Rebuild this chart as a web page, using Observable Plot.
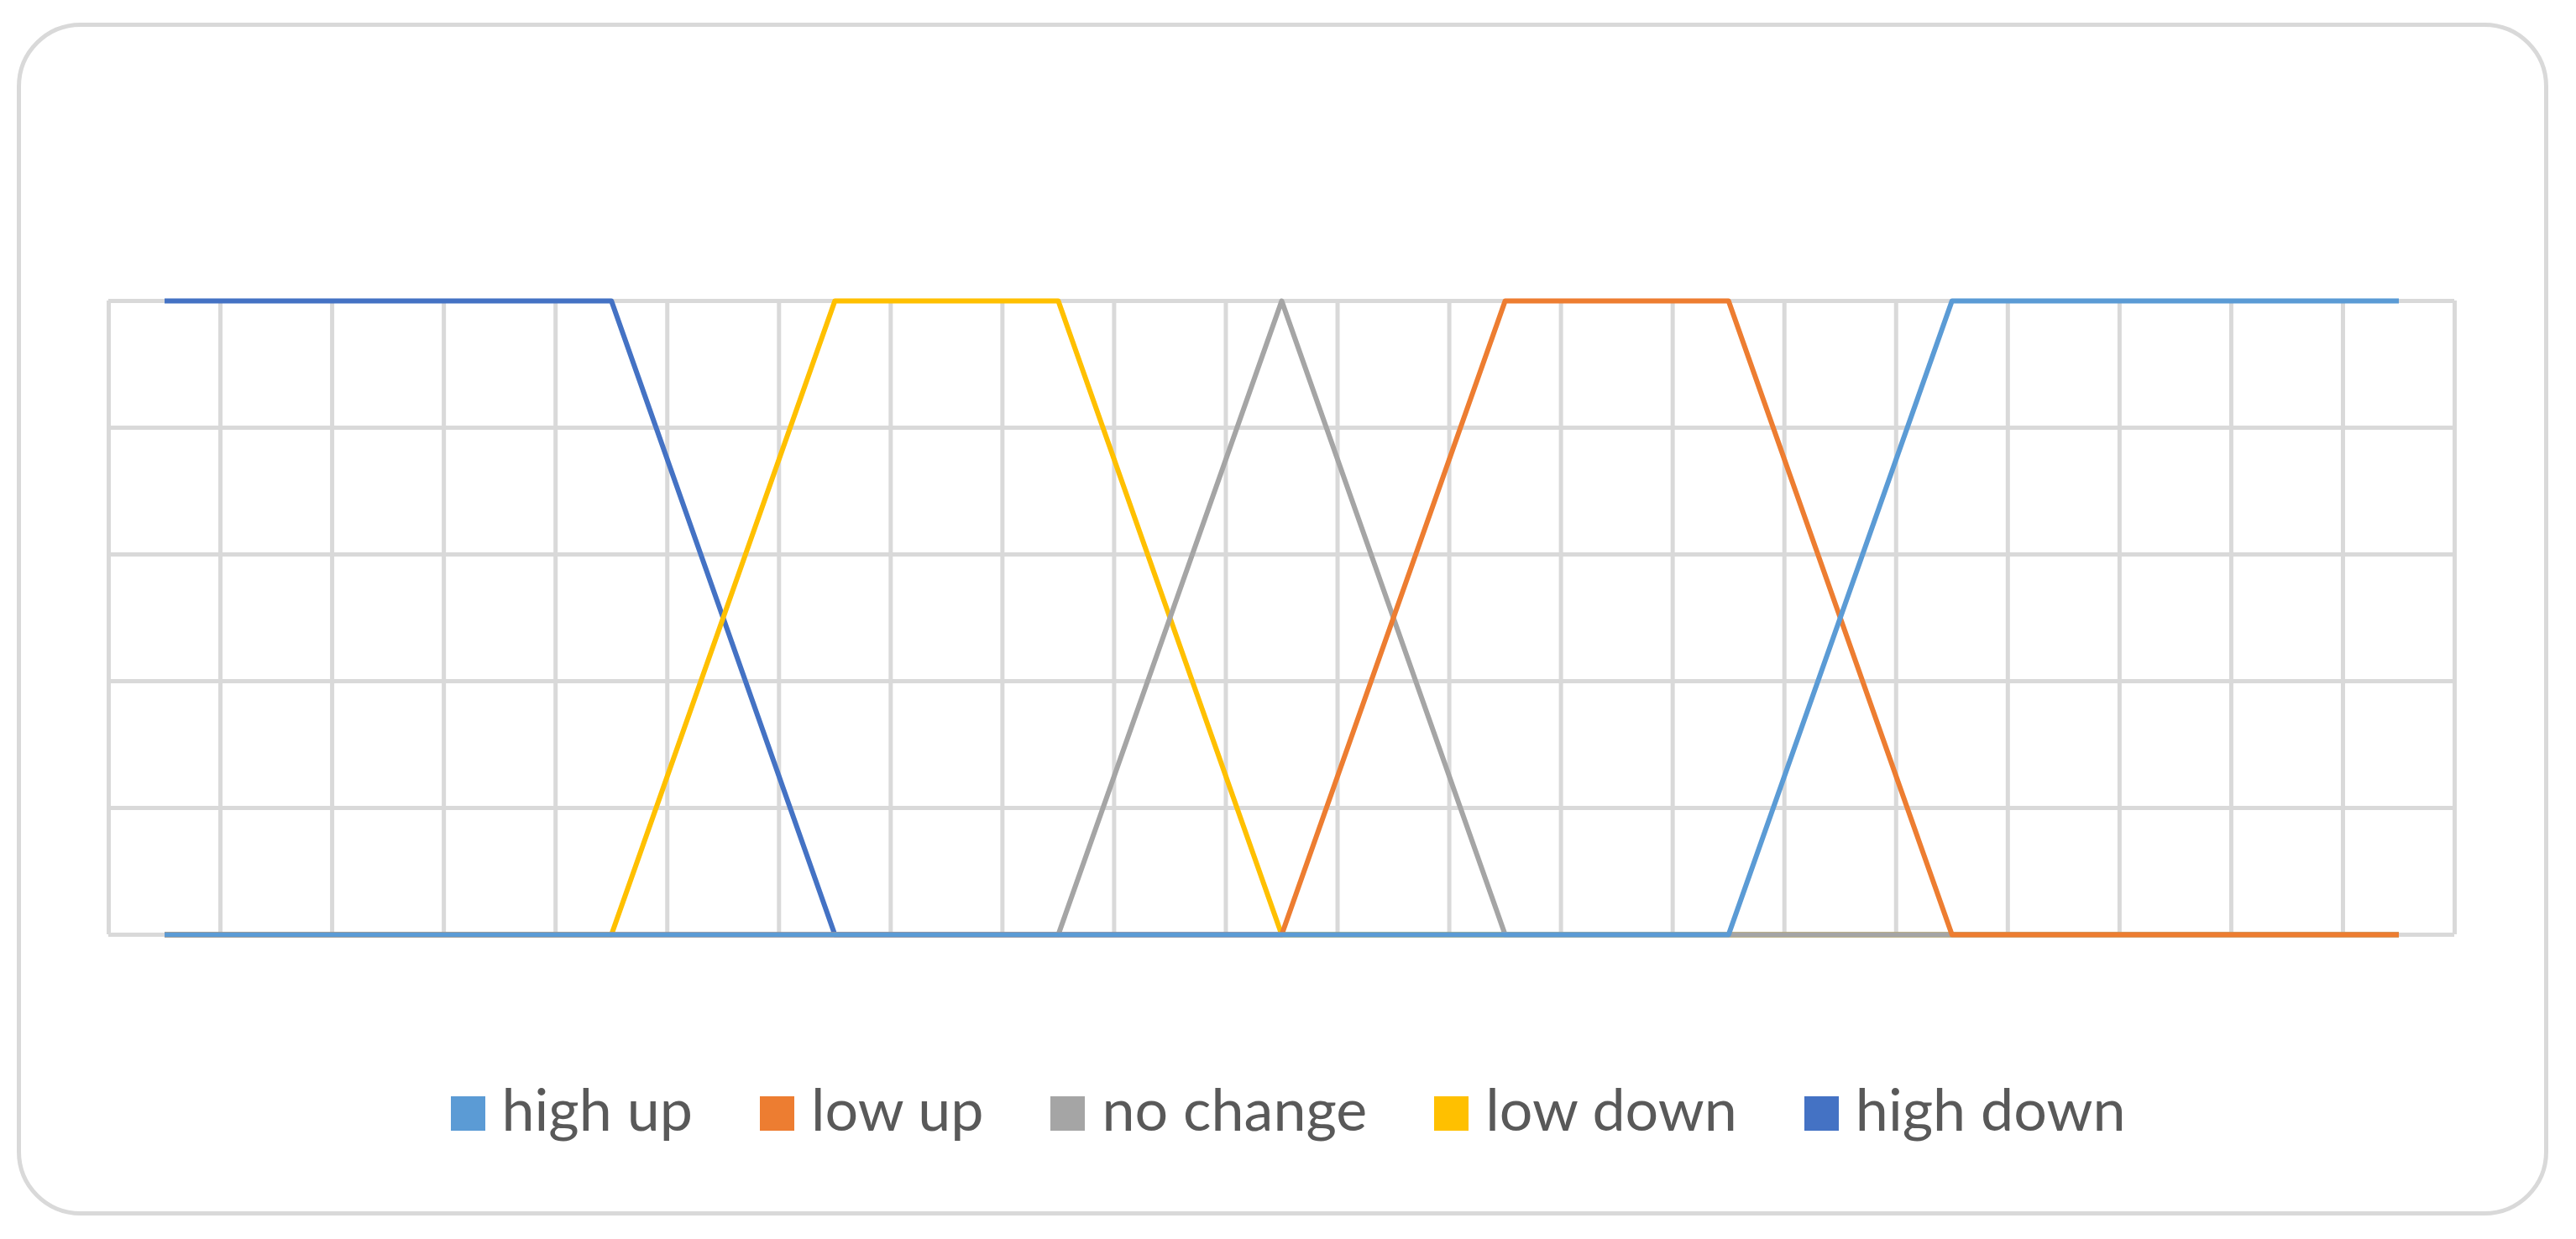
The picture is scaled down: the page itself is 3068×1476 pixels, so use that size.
<!DOCTYPE html>
<html>
<head>
<meta charset="utf-8">
<script src="https://cdn.jsdelivr.net/npm/d3@7"></script>
<script src="https://cdn.jsdelivr.net/npm/@observablehq/plot@0.6"></script>
<style>
  html, body { margin: 0; padding: 0; background: #fff; }
  body { width: 3068px; height: 1476px; position: relative; overflow: hidden; font-family: Lato, "Open Sans", sans-serif; }
  #frame { position: absolute; left: 20px; top: 27px; width: 3015px; height: 1421px; box-sizing: border-box; border: 5px solid #d9d9d9; border-radius: 76px; }
  #chart { position: absolute; left: 0; top: 0; }
  #legend { position: absolute; left: 0; width: 3068px; top: 1285px; display: flex; justify-content: center; font-size: 70px; line-height: 70px; color: #595959; white-space: nowrap; }
  .item { margin: 0 40px; }
  .sw { display: inline-block; width: 41px; height: 41px; margin-right: 20px; vertical-align: baseline; }
</style>
</head>
<body>
<div id="frame"></div>
<div id="chart"></div>
<div id="legend"></div>
<script>
// Categories (21 points along the x axis, no labels shown)
const categories = ["1","2","3","4","5","6","7","8","9","10","11","12","13","14","15","16","17","18","19","20","21"];
// Series values
const highUp   = [0,0,0,0,0,0,0,0,0,0,0,0,0,0,0,0.5,1,1,1,1,1];
const lowUp    = [0,0,0,0,0,0,0,0,0,0,0,0.5,1,1,1,0.5,0,0,0,0,0];
const noChange = [0,0,0,0,0,0,0,0,0,0.5,1,0.5,0,0,0,0,0,0,0,0,0];
const lowDown  = [0,0,0,0,0,0.5,1,1,1,0.5,0,0,0,0,0,0,0,0,0,0,0];
const highDown = [1,1,1,1,1,0.5,0,0,0,0,0,0,0,0,0,0,0,0,0,0,0];
const seriesNames = ["high up","low up","no change","low down","high down"];
const seriesColors = ["#5B9BD5","#ED7D31","#A5A5A5","#FFC000","#4472C4"];
const yTicks = [0, 0.2, 0.4, 0.6, 0.8, 1];

const seriesValues = [highUp, lowUp, noChange, lowDown, highDown];
const rows = (k) => seriesValues[k].map((v, i) => ({series: seriesNames[k], cat: categories[i], i, value: v}));
// vertical gridlines at category boundaries
const xBounds = d3.range(categories.length + 1).map(i => i - 0.5);

const W = 3068, H = 1200;
const drawOrder = [4, 3, 2, 1, 0]; // later series in front
const plot = Plot.plot({
  width: W,
  height: H,
  marginLeft: 129,
  marginRight: W - 2923,
  marginTop: 358,
  marginBottom: H - 1113,
  x: {type: "linear", domain: [-0.5, categories.length - 0.5], axis: null},
  y: {domain: [0, 1], axis: null},
  color: {domain: seriesNames, range: seriesColors},
  style: {background: "transparent", overflow: "visible"},
  marks: [
    Plot.ruleY(yTicks, {stroke: "#d9d9d9", strokeWidth: 5, strokeOpacity: 1}),
    Plot.ruleX(xBounds, {stroke: "#d9d9d9", strokeWidth: 5, strokeOpacity: 1}),
    ...drawOrder.map(k => Plot.line(rows(k), {x: "i", y: "value", stroke: "series", strokeWidth: 6, strokeLinecap: "butt", strokeLinejoin: "round"}))
  ]
});
document.getElementById("chart").appendChild(plot);

const legend = document.getElementById("legend");
seriesNames.forEach((name, k) => {
  const item = document.createElement("span");
  item.className = "item";
  const sw = document.createElement("span");
  sw.className = "sw";
  sw.style.background = seriesColors[k];
  item.appendChild(sw);
  item.appendChild(document.createTextNode(name));
  legend.appendChild(item);
});
</script>
</body>
</html>
